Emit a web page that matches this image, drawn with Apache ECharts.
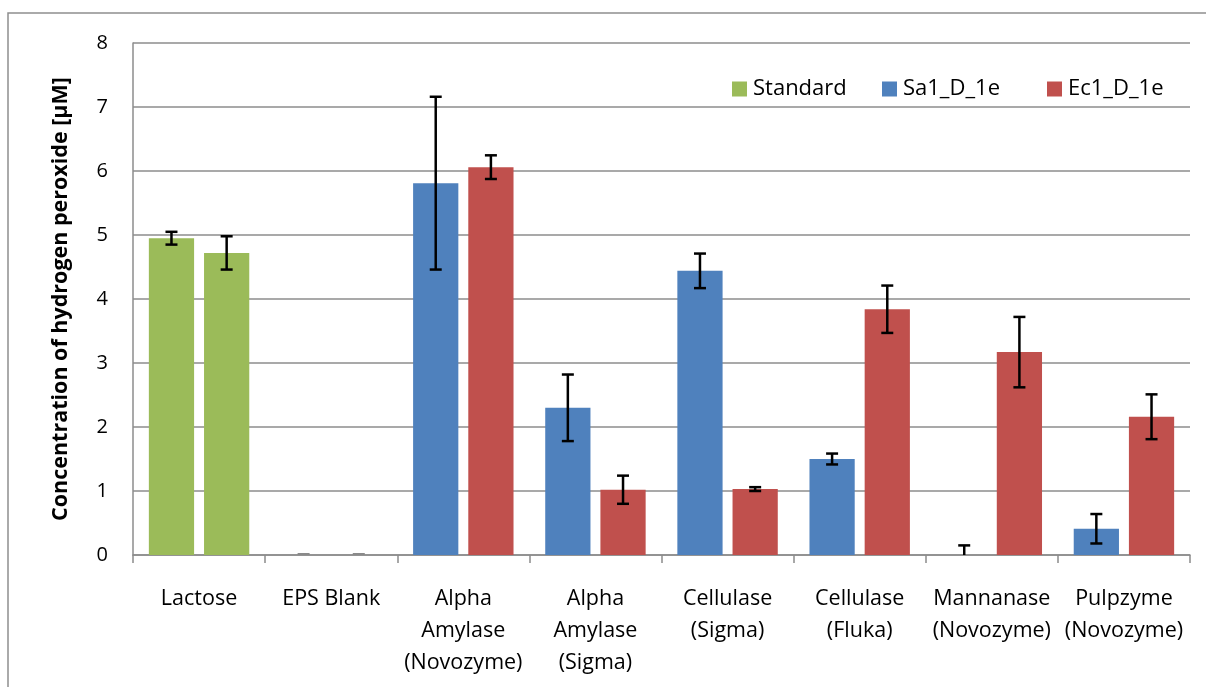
<!DOCTYPE html>
<html>
<head>
<meta charset="utf-8">
<script src="https://cdn.jsdelivr.net/npm/echarts@6/dist/echarts.min.js"></script>
<style>
  html, body { margin: 0; padding: 0; background: #fff; }
  #chart { width: 1206px; height: 687px; }
</style>
</head>
<body>
<div id="chart"></div>
<script>
// Enzyme treatments on the category axis
const categories = [
  'Lactose', 'EPS Blank', 'Alpha\nAmylase\n(Novozyme)', 'Alpha\nAmylase\n(Sigma)',
  'Cellulase\n(Sigma)', 'Cellulase\n(Fluka)', 'Mannanase\n(Novozyme)', 'Pulpzyme\n(Novozyme)'
];
const yTicks = [0, 1, 2, 3, 4, 5, 6, 7, 8];

// Hydrogen peroxide concentration [µM]; left bar of each pair
const standardLeft = [4.95, '-', '-', '-', '-', '-', '-', '-'];
const sa1 = ['-', 0, 5.81, 2.30, 4.44, 1.50, 0, 0.41];
// right bar of each pair
const standardRight = [4.72, '-', '-', '-', '-', '-', '-', '-'];
const ec1 = ['-', 0, 6.06, 1.02, 1.03, 3.84, 3.17, 2.16];

// Error half-widths for the left and right bar of each pair
const errLeft = [0.10, 0, 1.35, 0.52, 0.27, 0.085, 0.15, 0.23];
const errRight = [0.26, 0, 0.185, 0.22, 0.03, 0.37, 0.55, 0.35];

const FONT = 'Open Sans';
const CAT_GAP = 0.24;
const BAR_GAP = 0.22;

function valueAt(i, slot) {
  return slot === 0 ? (standardLeft[i] !== '-' ? standardLeft[i] : sa1[i])
                    : (standardRight[i] !== '-' ? standardRight[i] : ec1[i]);
}

function errorData(slot) {
  const errs = slot === 0 ? errLeft : errRight;
  return categories.map((c, i) => [i, valueAt(i, slot), errs[i]]);
}

// Error bars centred on the left / right bar of a pair
function errorRenderer(slot) {
  return function (params, api) {
    const i = api.value(0), v = api.value(1), e = api.value(2);
    const cw = api.size([1, 0])[0];
    const bw = cw * (1 - CAT_GAP) / (2 + BAR_GAP);
    const off = (slot === 0 ? -1 : 1) * bw * (1 + BAR_GAP) / 2;
    const x = api.coord([i, 0])[0] + off;
    const capHalf = 6;
    const hi = api.coord([i, v + e])[1];
    const loVal = v - e;
    const lo = api.coord([i, Math.max(0, loVal)])[1];
    if (e === 0) {
      const y0 = api.coord([i, 0])[1] - 1;
      return { type: 'line', shape: { x1: x - capHalf, y1: y0, x2: x + capHalf, y2: y0 },
               style: { stroke: '#8a8a8a', lineWidth: 2 } };
    }
    const st = { stroke: '#000', lineWidth: 2.5 };
    const children = [
      { type: 'line', shape: { x1: x, y1: hi, x2: x, y2: lo }, style: st },
      { type: 'line', shape: { x1: x - capHalf, y1: hi, x2: x + capHalf, y2: hi }, style: st }
    ];
    if (loVal >= 0) {
      children.push({ type: 'line', shape: { x1: x - capHalf, y1: lo, x2: x + capHalf, y2: lo }, style: st });
    }
    return { type: 'group', children: children };
  };
}

const chart = echarts.init(document.getElementById('chart'), null, { renderer: 'canvas' });

const barCommon = {
  type: 'bar',
  barCategoryGap: (CAT_GAP * 100) + '%',
  barGap: (BAR_GAP * 100) + '%'
};

function legendItem(name, left) {
  return {
    data: [name],
    left: left,
    top: 73,
    itemWidth: 15,
    itemHeight: 15,
    icon: 'rect',
    textStyle: { fontFamily: FONT, fontSize: 22, color: '#000', padding: [0, 0, 0, 1] }
  };
}

chart.setOption({
  animation: false,
  backgroundColor: '#fff',
  textStyle: { fontFamily: FONT },
  graphic: [{
    type: 'rect',
    shape: { x: 8, y: 13, width: 1400, height: 900 },
    style: { fill: 'none', stroke: '#8e8e8e', lineWidth: 1.5 },
    silent: true
  }],
  grid: { left: 133, right: 16, top: 43, bottom: 132, containLabel: false },
  legend: [
    legendItem('Standard', 727),
    legendItem('Sa1_D_1e', 877),
    legendItem('Ec1_D_1e', 1042)
  ],
  xAxis: {
    type: 'category',
    data: categories,
    axisLine: { lineStyle: { color: '#8c8c8c', width: 1.5 } },
    axisTick: { show: true, length: 8, alignWithLabel: false, lineStyle: { color: '#8c8c8c', width: 1.5 } },
    axisLabel: {
      interval: 0, margin: 28, color: '#000', fontFamily: FONT, fontSize: 21.5, lineHeight: 32
    }
  },
  yAxis: {
    type: 'value',
    min: yTicks[0],
    max: yTicks[yTicks.length - 1],
    interval: 1,
    name: 'Concentration of hydrogen peroxide [µM]',
    nameLocation: 'middle',
    nameGap: 61,
    nameTextStyle: { fontFamily: FONT, fontSize: 21.5, fontWeight: 'bold', color: '#000' },
    axisLine: { show: true, lineStyle: { color: '#8c8c8c', width: 1.5 } },
    axisTick: { show: false },
    axisLabel: { margin: 25, color: '#000', fontFamily: FONT, fontSize: 20 },
    splitLine: { lineStyle: { color: '#8c8c8c', width: 1.5 } }
  },
  series: [
    Object.assign({ name: 'Standard', stack: 'left', data: standardLeft, itemStyle: { color: '#9BBB59' } }, barCommon),
    Object.assign({ name: 'Sa1_D_1e', stack: 'left', data: sa1, itemStyle: { color: '#4F81BD' } }, barCommon),
    Object.assign({ name: 'Ec1_D_1e', stack: 'right', data: ec1, itemStyle: { color: '#C0504D' } }, barCommon),
    Object.assign({ name: 'Standard', stack: 'right', data: standardRight, itemStyle: { color: '#9BBB59' } }, barCommon),
    {
      name: 'errorLeft', type: 'custom', renderItem: errorRenderer(0),
      data: errorData(0), encode: { x: 0, y: 1 }, z: 10, clip: false, silent: true
    },
    {
      name: 'errorRight', type: 'custom', renderItem: errorRenderer(1),
      data: errorData(1), encode: { x: 0, y: 1 }, z: 10, clip: false, silent: true
    }
  ]
});
</script>
</body>
</html>
